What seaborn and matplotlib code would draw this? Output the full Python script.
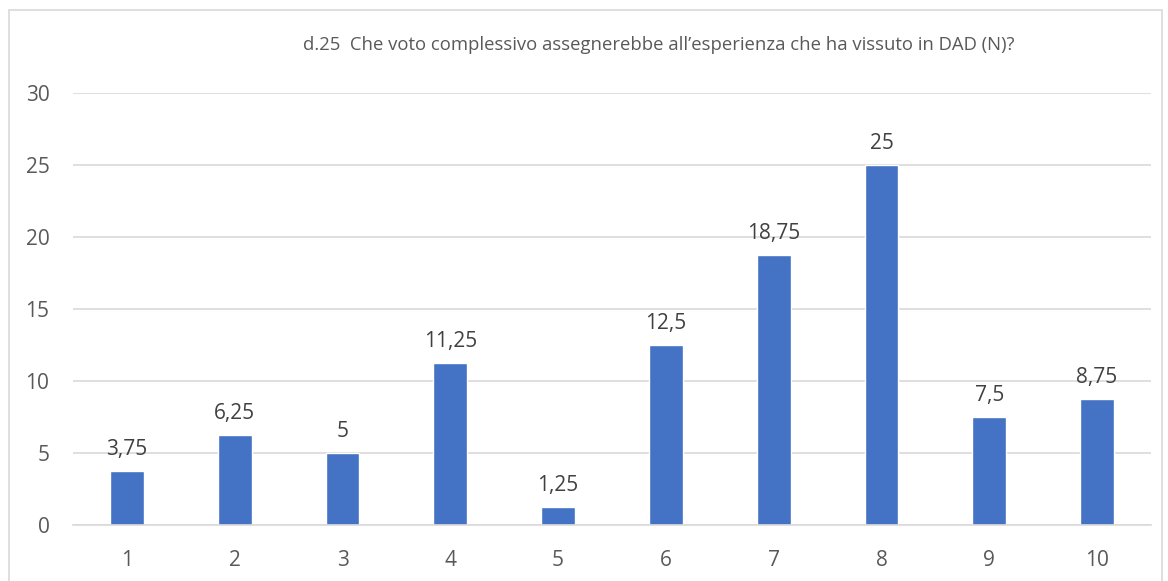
import matplotlib
matplotlib.use("Agg")
import matplotlib.pyplot as plt
import seaborn as sns
import pandas as pd
from matplotlib.patches import Rectangle

categories = ["1", "2", "3", "4", "5", "6", "7", "8", "9", "10"]
values = [3.75, 6.25, 5, 11.25, 1.25, 12.5, 18.75, 25, 7.5, 8.75]
title = "d.25  Che voto complessivo assegnerebbe all\u2019esperienza che ha vissuto in DAD (N)?"

df = pd.DataFrame({"voto": categories, "n": values})

sns.set_theme(style="white")
plt.rcParams["font.family"] = ["Open Sans", "DejaVu Sans"]

fig = plt.figure(figsize=(11.68, 5.81), dpi=100)
ax = fig.add_axes([73 / 1168, 1 - 525 / 581, (1151 - 73) / 1168, (525 - 93) / 581])

sns.barplot(data=df, x="voto", y="n", color="#4472C4", width=0.315, ax=ax, saturation=1)

ax.set_ylim(0, 30)
ax.set_yticks(range(0, 31, 5))
ax.yaxis.grid(True, color="#D9D9D9", linewidth=1.2)
ax.set_axisbelow(True)
for s in ["left", "right", "top"]:
    ax.spines[s].set_visible(False)
ax.spines["bottom"].set_color("#D9D9D9")
ax.spines["bottom"].set_linewidth(1.2)
ax.set_xlabel("")
ax.set_ylabel("")
ax.tick_params(axis="both", length=0, labelsize=15, colors="#595959")
ax.tick_params(axis="x", pad=18)
ax.tick_params(axis="y", pad=17)

labels = [str(v).replace(".", ",").removesuffix(",0") for v in values]
ax.bar_label(ax.containers[0], labels=labels, padding=8, fontsize=15, color="#404040")

fig.text(659 / 1168, 1 - 45 / 581, title, ha="center", va="center", fontsize=13.3, color="#595959")

fig.patches.append(Rectangle((9 / 1168, -0.05), (1162 - 9) / 1168, 1.05 - 10 / 581,
                             transform=fig.transFigure, fill=False, edgecolor="#D9D9D9", linewidth=1.2))

plt.savefig("out.png", dpi=100)
